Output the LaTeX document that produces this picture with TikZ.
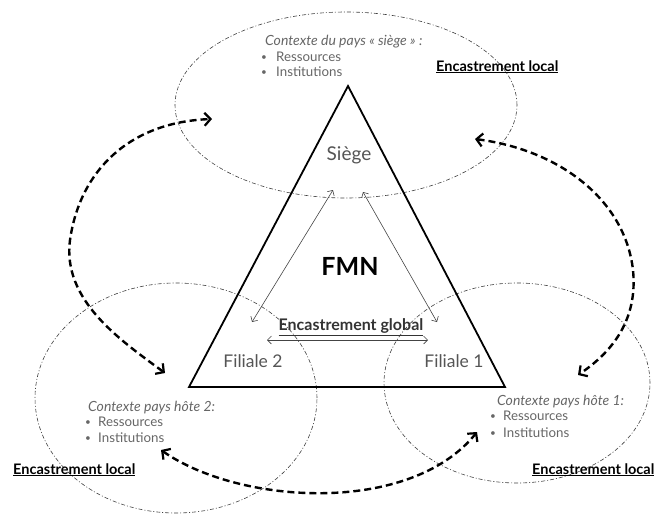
\documentclass[tikz,border=0pt]{standalone}
\usepackage{fontspec}
\setmainfont{Lato}
\usetikzlibrary{arrows.meta,shapes.geometric}
\definecolor{txtgray}{HTML}{555555}
\definecolor{ctxgray}{HTML}{666666}
\definecolor{linegray}{HTML}{444444}
\begin{document}
\begin{tikzpicture}[x=1pt,y=-1pt,
  ctxell/.style={draw=black!75, ellipse, line width=0.6pt, inner sep=0pt,
    dash pattern=on 4pt off 2pt on 1pt off 2pt},
  bigarrow/.style={line width=2.4pt, dash pattern=on 7pt off 4pt,
    {Straight Barb[length=6pt,width=13pt,line width=2.2pt]}-{Straight Barb[length=6pt,width=13pt,line width=2.2pt]}},
  thinarrow/.style={draw=linegray, line width=0.6pt,
    {Straight Barb[length=4pt,width=8pt]}-{Straight Barb[length=4pt,width=8pt]}},
  ctx/.style={inner sep=0pt, anchor=base west, text=ctxgray, font=\fontsize{13.3}{15}\selectfont},
  ctxit/.style={ctx, font=\fontsize{14}{16}\selectfont\itshape},
  bul/.style={ctx, font=\fontsize{10}{12}\selectfont},
  loc/.style={inner sep=0pt, anchor=base west, font=\fontsize{14.5}{16}\selectfont\bfseries},
  lab/.style={inner sep=0pt, text=txtgray, font=\fontsize{17.5}{19}\selectfont}
]
\useasboundingbox (0,0) rectangle (665,515);

% context ellipses
\node[ctxell, minimum width=342pt, minimum height=186pt] (etop) at (346,105) {};
\node[ctxell, minimum width=282pt, minimum height=230pt] (eleft) at (176,398) {};
\node[ctxell, minimum width=266pt, minimum height=200pt] (eright) at (517,383) {};

% triangle
\coordinate (apex) at (348,86);
\coordinate (bl) at (189,387);
\coordinate (br) at (505,387);
\draw[line width=1.8pt, line join=miter] (apex) -- (bl) -- (br) -- cycle;

% labels inside triangle
\node[lab, font=\fontsize{19}{21}\selectfont] (siege) at (349,155) {Siège};
\node[inner sep=0pt, font=\fontsize{25}{27}\selectfont\bfseries] (fmn) at (350,266) {FMN};
\node[inner sep=0pt, text=black!80, font=\fontsize{16}{18}\selectfont\bfseries] (eglob) at (351,327) {\underline{Encastrement global}};
\node[lab] (fil2) at (253,361) {Filiale 2};
\node[lab] (fil1) at (454,361) {Filiale 1};

% thin arrows
\coordinate (s1) at (333,190); \coordinate (f2a) at (252,322);
\coordinate (s2) at (363,192); \coordinate (f1a) at (437,322);
\coordinate (g1) at (267,340); \coordinate (g2) at (428,340);
\draw[thinarrow] (s1) -- (f2a);
\draw[thinarrow] (s2) -- (f1a);
\draw[thinarrow] (g1) -- (g2);

% top context text
\node[ctxit] (tctx) at (265,45) {Contexte du pays « siège » :};
\node[bul] (tb1) at (261,60) {•};
\node[ctx] (tr) at (276,61) {Ressources};
\node[bul] (tb2) at (261,75) {•};
\node[ctx] (ti) at (276,76) {Institutions};
\node[loc] (ltop) at (436,71) {\underline{Encastrement local}};

% bottom-left context text
\node[ctxit] (lctx) at (88,411) {Contexte pays hôte 2:};
\node[bul] (lb1) at (85,425) {•};
\node[ctx] (lr) at (98,426) {Ressources};
\node[bul] (lb2) at (85,441) {•};
\node[ctx] (li) at (98,442) {Institutions};
\node[loc] (lleft) at (13,474) {\underline{Encastrement local}};

% bottom-right context text
\node[ctxit] (rctx) at (497,405) {Contexte pays hôte 1:};
\node[bul] (rb1) at (490,419) {•};
\node[ctx] (rr) at (503,420) {Ressources};
\node[bul] (rb2) at (490,436) {•};
\node[ctx] (ri) at (503,437) {Institutions};
\node[loc] (lright) at (532,474) {\underline{Encastrement local}};

% big dashed arrows
\coordinate (a1) at (212,119); \coordinate (a1m) at (70,240); \coordinate (a1e) at (165,373);
\draw[bigarrow] (a1e) .. controls (120,340) and (62,300) .. (a1m)
  .. controls (80,170) and (130,122) .. (a1);
\coordinate (a2) at (475,139); \coordinate (a2m) at (633,270); \coordinate (a2e) at (578,375);
\draw[bigarrow] (a2) .. controls (560,150) and (625,200) .. (a2m)
  .. controls (638,320) and (612,352) .. (a2e);
\coordinate (a3) at (161,450); \coordinate (a3e) at (477,432);
\draw[bigarrow] (a3) .. controls (240,505) and (410,515) .. (a3e);
\end{tikzpicture}
\end{document}
